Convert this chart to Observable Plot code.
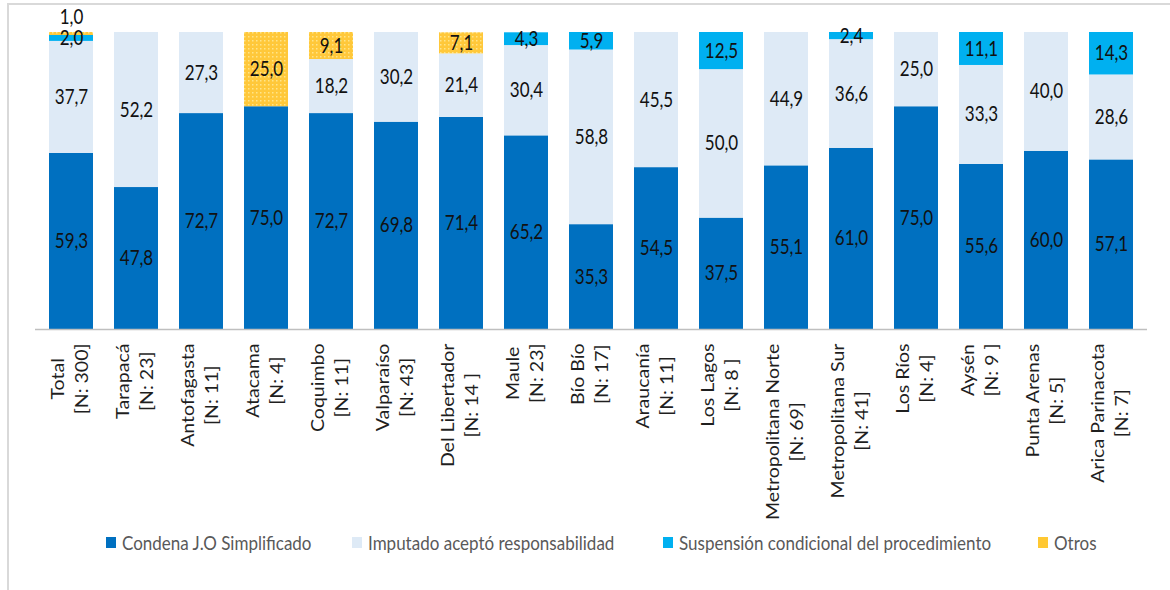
<!DOCTYPE html>
<html>
<head>
<meta charset="utf-8">
<script src="https://cdn.jsdelivr.net/npm/d3@7"></script>
<script src="https://cdn.jsdelivr.net/npm/@observablehq/plot@0.6"></script>
<style>
  html, body { margin: 0; padding: 0; background: #fff; }
  #wrap { position: relative; width: 1170px; height: 590px; overflow: hidden; font-family: Lato, "Open Sans", sans-serif; }
  #frame { position: absolute; left: 7px; top: 3px; width: 1170px; height: 600px; border-top: 2px solid #d9d9d9; border-left: 2px solid #d9d9d9; }
  #chart { position: absolute; left: 0; top: 0; }
  #legend { position: absolute; left: 0; top: 528px; width: 1170px; height: 40px; }
  .item { position: absolute; top: 4px; display: flex; align-items: center; font-size: 17px; color: #595959; white-space: nowrap; }
  .item span { display: inline-block; transform: scaleY(1.1); }
  .sw { width: 10px; height: 11px; margin-right: 6px; }
</style>
</head>
<body>
<div id="wrap">
  <div id="frame"></div>
  <div id="chart"></div>
  <div id="legend"></div>
</div>
<script>
const categories = [
  "Total\n[N: 300]", "Tarapacá\n[N: 23]", "Antofagasta\n[N: 11]", "Atacama\n[N: 4]",
  "Coquimbo\n[N: 11]", "Valparaíso\n[N: 43]", "Del Libertador\n[N: 14 ]", "Maule\n[N: 23]",
  "Bío Bío\n[N: 17]", "Araucanía\n[N: 11]", "Los Lagos\n[N: 8 ]", "Metropolitana Norte\n[N: 69]",
  "Metropolitana Sur\n[N: 41]", "Los Ríos\n[N: 4]", "Aysén\n[N: 9 ]", "Punta Arenas\n[N: 5]",
  "Arica Parinacota\n[N: 7]"
];
const seriesNames = [
  "Condena J.O Simplificado",
  "Imputado aceptó responsabilidad",
  "Suspensión condicional del procedimiento",
  "Otros"
];
const condena    = [59.3, 47.8, 72.7, 75.0, 72.7, 69.8, 71.4, 65.2, 35.3, 54.5, 37.5, 55.1, 61.0, 75.0, 55.6, 60.0, 57.1];
const imputado   = [37.7, 52.2, 27.3, 0, 18.2, 30.2, 21.4, 30.4, 58.8, 45.5, 50.0, 44.9, 36.6, 25.0, 33.3, 40.0, 28.6];
const suspension = [2.0, 0, 0, 0, 0, 0, 0, 4.3, 5.9, 0, 12.5, 0, 2.4, 0, 11.1, 0, 14.3];
const otros      = [1.0, 0, 0, 25.0, 9.1, 0, 7.1, 0, 0, 0, 0, 0, 0, 0, 0, 0, 0];
const colors = ["#0070C0", "#DEEAF6", "#00B0F0", "url(#otrosPattern)"];
const legendColors = ["#0070C0", "#DEEAF6", "#00B0F0", "#FFC832"];

const seriesValues = [condena, imputado, suspension, otros];
const table = [];
categories.forEach((c, i) => {
  seriesNames.forEach((s, j) => table.push({cat: c, series: s, value: seriesValues[j][i]}));
});
const fmt = v => v.toFixed(1).replace(".", ",");
const isTiny = d => d.series === "Otros" && d.value > 0 && d.value < 2;

// layout
const W = 1170, H = 528, MT = 32, MB = 199, ML = 35, MR = 23;
const pxPerUnit = (H - MT - MB) / 100;
const axisFont = 17, axisStretch = 1.15, labelTop = 14;

// measure category label lines to centre each line under the longest one
const ctx = document.createElement("canvas").getContext("2d");
ctx.font = `${axisFont}px Lato`;
const catLabels = categories.map(c => {
  const w = Math.max(...c.split("\n").map(l => ctx.measureText(l).width)) * axisStretch;
  return {cat: c, y: -(labelTop + w / 2) / pxPerUnit};
});

const svg = Plot.plot({
  width: W,
  height: H,
  marginTop: MT,
  marginBottom: MB,
  marginLeft: ML,
  marginRight: MR,
  style: {fontFamily: "Lato, 'Open Sans', sans-serif", background: "transparent"},
  x: {domain: categories, paddingInner: 0.33, paddingOuter: 0.165, axis: null},
  y: {domain: [0, 100], axis: null},
  color: {domain: seriesNames, range: colors},
  marks: [
    Plot.barY(table, {x: "cat", y: "value", fill: "series", order: seriesNames}),
    Plot.ruleY([0], {stroke: "#bfbfbf", strokeWidth: 1.5}),
    Plot.text(table, Plot.stackY({
      x: "cat", y: "value", z: "series", order: seriesNames,
      text: d => (d.value > 0 && !isTiny(d)) ? fmt(d.value) : undefined,
      fontSize: 17, fill: "#111", className: "vals"
    })),
    Plot.text(table, Plot.stackY2({
      x: "cat", y: "value", z: "series", order: seriesNames,
      text: d => isTiny(d) ? fmt(d.value) : undefined,
      fontSize: 17, fill: "#111", dy: -15, className: "vals"
    })),
    Plot.text(catLabels, {
      x: "cat", y: "y", text: "cat", rotate: -90, dx: -3,
      textAnchor: "middle", lineAnchor: "middle", lineHeight: 1.4,
      fontSize: axisFont, fill: "#1f1f1f", className: "cats"
    })
  ]
});

const defs = d3.select(svg).insert("defs", ":first-child");
const pat = defs.append("pattern").attr("id", "otrosPattern")
  .attr("patternUnits", "userSpaceOnUse").attr("width", 4).attr("height", 4);
pat.append("rect").attr("width", 4).attr("height", 4).attr("fill", "#FFC83A");
pat.append("rect").attr("x", 0).attr("y", 0).attr("width", 1.5).attr("height", 1.5).attr("fill", "#FFE58A");

// stretch text like the reference rendering
d3.select(svg).selectAll("g.cats text").each(function() {
  const t = this.getAttribute("transform") || "";
  this.setAttribute("transform", t + ` scale(${axisStretch},1)`);
});
d3.select(svg).selectAll("g.vals text").each(function() {
  const t = this.getAttribute("transform") || "";
  this.setAttribute("transform", t + " scale(1,1.2)");
});

document.getElementById("chart").appendChild(svg);

const legendLefts = [106, 352, 663, 1038];
const legend = document.getElementById("legend");
seriesNames.forEach((s, i) => {
  const item = document.createElement("div");
  item.className = "item";
  item.style.left = legendLefts[i] + "px";
  const sw = document.createElement("div");
  sw.className = "sw";
  sw.style.background = legendColors[i];
  item.appendChild(sw);
  const t = document.createElement("span");
  t.textContent = s;
  item.appendChild(t);
  legend.appendChild(item);
});
</script>
</body>
</html>
